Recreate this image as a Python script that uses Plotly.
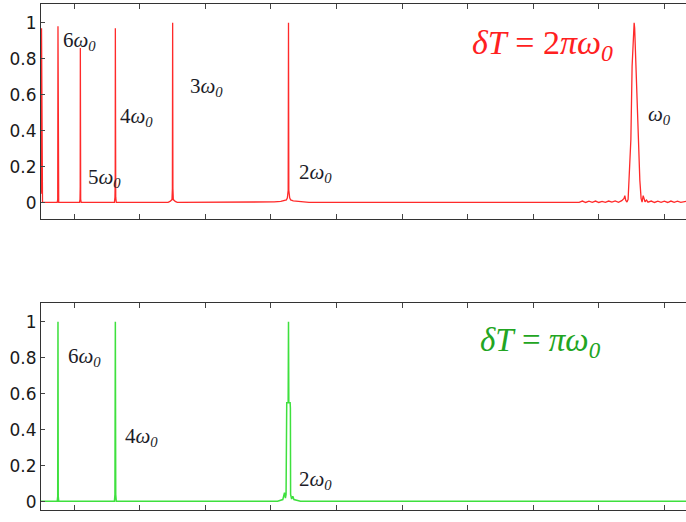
import plotly.graph_objects as go

# ---- data (x in arbitrary period units, y normalised amplitude) ----
red_x = [1.492, 1.494, 1.500, 1.504, 1.508, 1.515,
         1.740, 1.747, 1.751, 1.755, 1.762,
         2.080, 2.087, 2.090, 2.092, 2.094, 2.097, 2.105,
         2.612, 2.620, 2.624, 2.626, 2.628, 2.632, 2.640,
         3.430, 3.460, 3.480, 3.490, 3.496, 3.498, 3.500, 3.502, 3.504, 3.510, 3.520, 3.540, 3.570,
         4.950, 5.050, 5.150, 5.200, 5.235, 5.250, 5.262, 5.267, 5.272, 5.285, 5.300, 5.340, 5.400, 5.480, 5.580,
         9.70, 9.75, 9.80, 9.85, 9.90, 9.95, 10.00, 10.05, 10.10, 10.15, 10.20, 10.25, 10.30, 10.35,
         10.385, 10.397, 10.410, 10.430, 10.447, 10.463, 10.489, 10.508, 10.530, 10.539, 10.547, 10.554,
         10.576, 10.600, 10.626, 10.645, 10.660, 10.677, 10.690, 10.705, 10.728, 10.750,
         10.80, 10.85, 10.90, 10.95, 11.00, 11.05, 11.10, 11.15, 11.20, 11.25, 11.33]
red_y = [0.05, 0.06, 0.97, 0.06, 0.02, 0.003,
         0.003, 0.02, 0.98, 0.02, 0.003,
         0.003, 0.02, 0.09, 0.86, 0.09, 0.02, 0.003,
         0.003, 0.03, 0.12, 0.97, 0.12, 0.03, 0.003,
         0.003, 0.008, 0.012, 0.018, 0.08, 0.66, 1.0, 0.66, 0.08, 0.018, 0.012, 0.008, 0.003,
         0.003, 0.005, 0.008, 0.011, 0.016, 0.028, 0.07, 1.0, 0.07, 0.028, 0.016, 0.011, 0.008, 0.005, 0.003,
         0.003, 0.010, 0.002, 0.009, 0.003, 0.010, 0.002, 0.008, 0.003, 0.010, 0.004, 0.011, 0.003, 0.012,
         0.025, 0.040, 0.015, 0.004, 0.020, 0.125, 0.35, 0.76, 0.96, 1.0, 0.97, 0.90,
         0.66, 0.35, 0.125, 0.025, 0.004, 0.040, 0.015, 0.006, 0.016, 0.004,
         0.010, 0.002, 0.009, 0.003, 0.009, 0.002, 0.010, 0.003, 0.009, 0.003, 0.008]

green_x = [1.492, 1.740, 1.747, 1.751, 1.755, 1.762,
           2.612, 2.620, 2.624, 2.626, 2.628, 2.632, 2.640,
           5.100, 5.180, 5.206, 5.220, 5.230, 5.233, 5.240, 5.262, 5.267, 5.272, 5.292, 5.296, 5.299,
           5.315, 5.333, 5.350, 5.450, 11.33]
green_y = [0.003, 0.003, 0.03, 1.0, 0.03, 0.003,
           0.003, 0.04, 0.66, 1.0, 0.66, 0.04, 0.003,
           0.003, 0.012, 0.05, 0.02, 0.04, 0.52, 0.55, 0.55, 1.0, 0.55, 0.55, 0.52, 0.04,
           0.015, 0.03, 0.012, 0.003, 0.003]

y_ticks = [0, 0.2, 0.4, 0.6, 0.8, 1]
y_labels = ["0", "0.2", "0.4", "0.6", "0.8", "1"]
x_ticks = [2, 3, 4, 5, 6, 7, 8, 9, 10, 11]

top_labels = ["6<i>ω</i><sub><i>0</i></sub>", "5<i>ω</i><sub><i>0</i></sub>", "4<i>ω</i><sub><i>0</i></sub>",
              "3<i>ω</i><sub><i>0</i></sub>", "2<i>ω</i><sub><i>0</i></sub>", "<i>ω</i><sub><i>0</i></sub>"]
top_label_x = [1.80, 2.18, 2.67, 3.74, 5.40, 10.72]
top_label_y = [0.90, 0.137, 0.476, 0.643, 0.165, 0.487]
bot_labels = ["6<i>ω</i><sub><i>0</i></sub>", "4<i>ω</i><sub><i>0</i></sub>", "2<i>ω</i><sub><i>0</i></sub>"]
bot_label_x = [1.88, 2.75, 5.40]
bot_label_y = [0.804, 0.36, 0.12]

fig = go.Figure()
fig.add_trace(go.Scatter(x=red_x, y=red_y, mode="lines", line=dict(color="#ff2a2a", width=1.3),
                         xaxis="x", yaxis="y", showlegend=False))
fig.add_trace(go.Scatter(x=green_x, y=green_y, mode="lines", line=dict(color="#3ee03e", width=1.5),
                         xaxis="x2", yaxis="y2", showlegend=False))

ax_common = dict(showline=True, linecolor="#333", linewidth=1, showgrid=False, zeroline=False,
                 automargin=False)
xr = [1.492, 11.33]
tick_font = dict(family="DejaVu Sans", size=17, color="#1a1a1a")
fig.update_layout(
    width=686, height=522,
    margin=dict(l=41, r=0, t=4, b=12),
    plot_bgcolor="white", paper_bgcolor="white",
    xaxis=dict(domain=[0, 1], range=xr, anchor="y", tickvals=x_ticks, showticklabels=False,
               ticks="inside", ticklen=5, mirror="ticks", **ax_common),
    yaxis=dict(domain=[0.575, 1.0], range=[-0.09, 1.104], anchor="x", tickvals=y_ticks, ticktext=y_labels,
               ticks="inside", ticklen=4, tickfont=tick_font, **ax_common),
    xaxis2=dict(domain=[0, 1], range=xr, anchor="y2", tickvals=x_ticks, showticklabels=False,
                ticks="inside", ticklen=5, mirror="ticks", **ax_common),
    yaxis2=dict(domain=[0.0, 0.409], range=[-0.046, 1.104], anchor="x2", tickvals=y_ticks, ticktext=y_labels,
                ticks="inside", ticklen=4, tickfont=tick_font, **ax_common),
)

lab_font = dict(family="Liberation Serif", size=21, color="#1c1c28")
for t, x, y in zip(top_labels, top_label_x, top_label_y):
    fig.add_annotation(text=t, x=x, y=y, xref="x", yref="y", xanchor="left", yanchor="middle",
                       showarrow=False, font=lab_font)
for t, x, y in zip(bot_labels, bot_label_x, bot_label_y):
    fig.add_annotation(text=t, x=x, y=y, xref="x2", yref="y2", xanchor="left", yanchor="middle",
                       showarrow=False, font=lab_font)

fig.add_annotation(text="<i>δT</i> = 2<i>πω</i><sub><i>0</i></sub>", x=8.03, y=0.876, xref="x", yref="y",
                   xanchor="left", yanchor="middle", showarrow=False,
                   font=dict(family="Liberation Serif", size=34, color="#ff2020"))
fig.add_annotation(text="<i>δT</i> = <i>πω</i><sub><i>0</i></sub>", x=8.15, y=0.882, xref="x2", yref="y2",
                   xanchor="left", yanchor="middle", showarrow=False,
                   font=dict(family="Liberation Serif", size=33, color="#22a522"))

fig.write_html("out.html", config={"displayModeBar": False},
               post_script="document.body.style.margin='0';document.body.style.overflow='hidden';")
